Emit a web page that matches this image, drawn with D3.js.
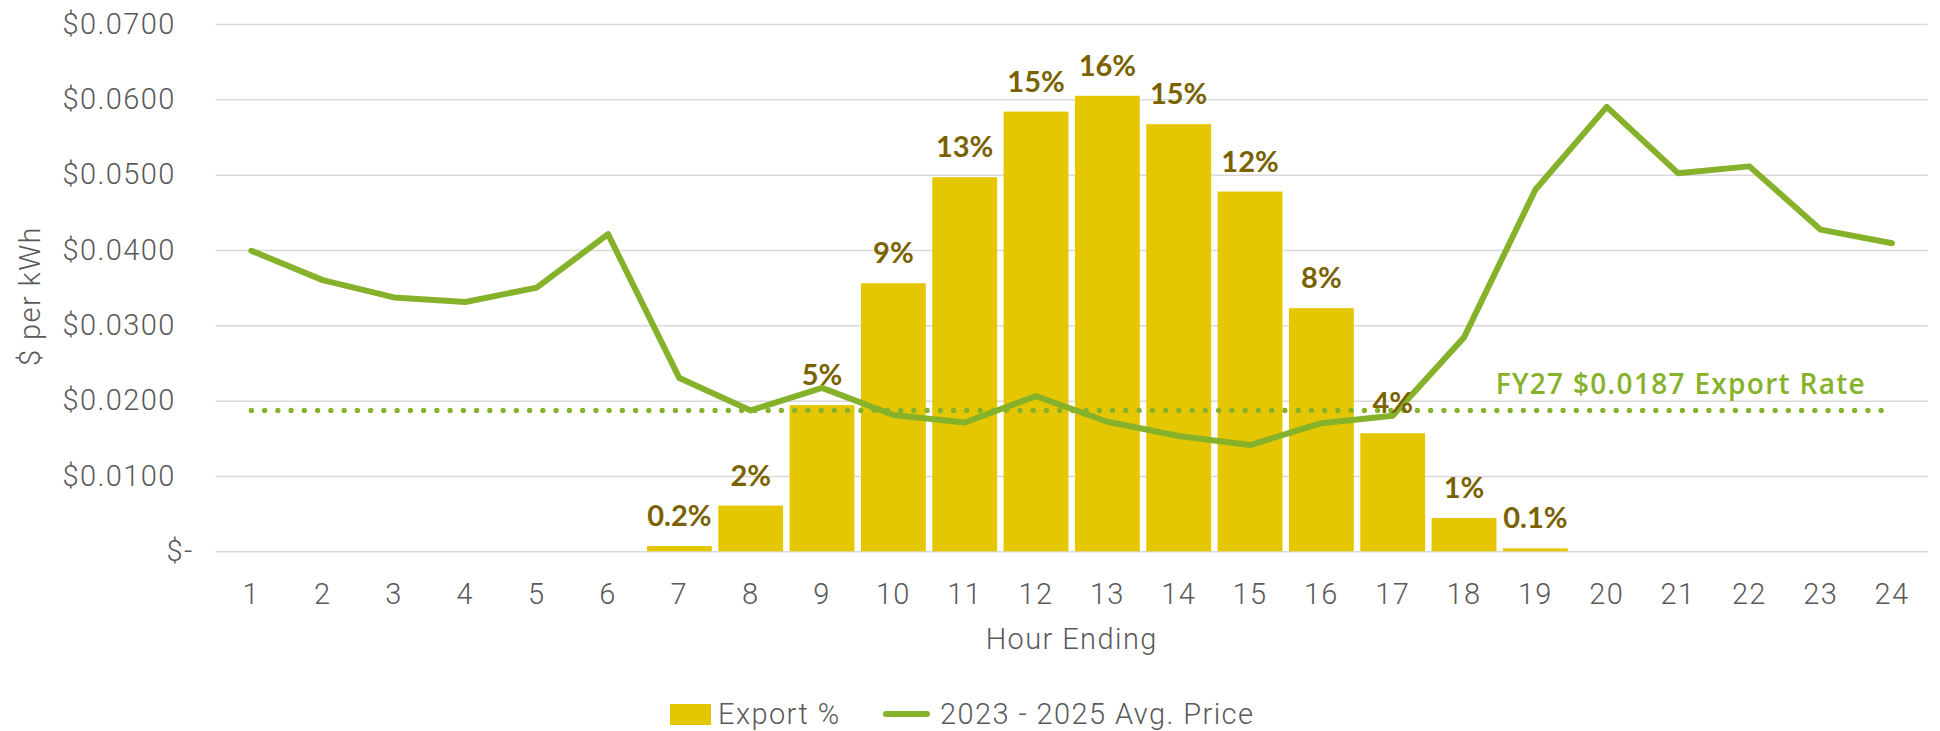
<!DOCTYPE html>
<html>
<head>
<meta charset="utf-8">
<script src="https://cdn.jsdelivr.net/npm/d3@7"></script>
<style>
  html, body { margin: 0; padding: 0; background: #ffffff; }
  svg { display: block; }
  .axis-text { font-family: Roboto, "Open Sans", sans-serif; font-weight: 300; font-size: 29px; fill: #595959; letter-spacing: 1.4px; }
  .bar-label { font-family: Lato, "Liberation Sans", sans-serif; font-weight: 700; font-size: 29px; fill: #7a6200; }
  .rate-label { font-family: "Open Sans", sans-serif; font-weight: 600; font-size: 28px; fill: #86b22b; letter-spacing: 1.3px; }
</style>
</head>
<body>
<svg></svg>
<script>
const hours = ["1","2","3","4","5","6","7","8","9","10","11","12","13","14","15","16","17","18","19","20","21","22","23","24"]

// share of daily export by hour (fraction)
const exportPct = [0, 0, 0, 0, 0, 0, 0.0018, 0.0156, 0.0499, 0.0915, 0.1277, 0.1501,
  0.1555, 0.1458, 0.1228, 0.0830, 0.0403, 0.0114, 0.0010, 0, 0, 0, 0, 0]

// 2023 - 2025 average price, $ per kWh
const avgPrice = [0.0399, 0.0360, 0.0337, 0.0331, 0.0350, 0.0421, 0.0230, 0.0187,
  0.0217, 0.0181, 0.0171, 0.0206, 0.0172, 0.0153, 0.0141, 0.0170, 0.0180, 0.0284,
  0.0480, 0.0590, 0.0502, 0.0511, 0.0427, 0.0409]

const exportRate = 0.0187
const yTicks = [0, 0.01, 0.02, 0.03, 0.04, 0.05, 0.06, 0.07]

const barColor = "#e4c700"
const lineColor = "#86b22b"

const svg = d3.select("svg")
  .attr("width", 1940)
  .attr("height", 731)

const plotLeft = 215.7, plotRight = 1927.7, plotTop = 24, plotBottom = 551.3

const scaleX = d3.scaleBand()
  .domain(hours)
  .range([plotLeft, plotRight])
  .paddingInner(1 - 1 / 1.1)
  .paddingOuter((1 - 1 / 1.1) / 2)

const scaleY = d3.scaleLinear()
  .domain([0, 0.07])
  .range([plotBottom, plotTop])

// hidden secondary axis for the export share
const scaleY2 = d3.scaleLinear()
  .domain([0, 0.18])
  .range([plotBottom, plotTop])

const cx = (h) => scaleX(h) + scaleX.bandwidth() / 2

// gridlines + y labels
const axisY = d3.axisLeft(scaleY)
  .tickValues(yTicks)
  .tickSizeInner(-(plotRight - plotLeft))
  .tickSizeOuter(0)
  .tickPadding(40)
  .tickFormat((d) => d === 0 ? "$-" : d3.format("$.4f")(d))

const axisYGroup = svg.append("g")
  .attr("transform", `translate(${plotLeft}, 0)`)
  .call(axisY)

axisYGroup.select(".domain").remove()
axisYGroup.selectAll(".tick line")
  .attr("stroke", "#d9d9d9")
  .attr("stroke-width", 1.5)
axisYGroup.selectAll(".tick text")
  .attr("class", "axis-text")
  .attr("dx", (d) => d === 0 ? 18 : 0)
axisYGroup.attr("font-family", null).attr("font-size", null)

// x labels
const axisX = d3.axisBottom(scaleX)
  .tickSize(0)
  .tickPadding(32)

const axisXGroup = svg.append("g")
  .attr("transform", `translate(0, ${plotBottom})`)
  .call(axisX)

axisXGroup.select(".domain").remove()
axisXGroup.selectAll(".tick text")
  .attr("class", "axis-text")
axisXGroup.attr("font-family", null).attr("font-size", null)

svg.selectAll(".tick text").attr("fill", null)

// axis titles
svg.append("text")
  .attr("class", "axis-text")
  .attr("x", (plotLeft + plotRight) / 2)
  .attr("y", 649)
  .attr("text-anchor", "middle")
  .text("Hour Ending")

svg.append("text")
  .attr("class", "axis-text")
  .attr("transform", "translate(40, 296) rotate(-90)")
  .attr("text-anchor", "middle")
  .text("$ per kWh")

// bars
const barData = hours.map((h, i) => ({ h: h, v: exportPct[i] })).filter((d) => d.v > 0)

svg.append("g")
  .selectAll("rect")
  .data(barData)
  .enter()
  .append("rect")
  .attr("x", (d) => scaleX(d.h))
  .attr("y", (d) => scaleY2(d.v))
  .attr("width", scaleX.bandwidth())
  .attr("height", (d) => plotBottom - scaleY2(d.v))
  .attr("fill", barColor)

// export rate dotted line
const rateLine = d3.line()
  .x((d) => cx(d))
  .y(() => scaleY(exportRate))

svg.append("path")
  .datum(hours)
  .attr("d", rateLine)
  .attr("fill", "none")
  .attr("stroke", lineColor)
  .attr("stroke-width", 5.3)
  .attr("stroke-linecap", "round")
  .attr("stroke-dasharray", "0.01 13.24")

// price line
const priceLine = d3.line()
  .x((d, i) => cx(hours[i]))
  .y((d) => scaleY(d))

svg.append("path")
  .datum(avgPrice)
  .attr("d", priceLine)
  .attr("fill", "none")
  .attr("stroke", lineColor)
  .attr("stroke-width", 6)
  .attr("stroke-linejoin", "round")
  .attr("stroke-linecap", "round")

// bar labels
const fmtPct = (v) => v < 0.005 ? d3.format(".1%")(v) : d3.format(".0%")(v)

svg.append("g")
  .selectAll("text")
  .data(barData)
  .enter()
  .append("text")
  .attr("class", "bar-label")
  .attr("x", (d) => cx(d.h))
  .attr("y", (d) => scaleY2(d.v) - 20)
  .attr("text-anchor", "middle")
  .text((d) => fmtPct(d.v))

// export rate label
svg.append("text")
  .attr("class", "rate-label")
  .attr("x", cx("24") - 26)
  .attr("y", scaleY(exportRate) - 16.4)
  .attr("text-anchor", "end")
  .text(`FY27 ${d3.format("$.4f")(exportRate)} Export Rate`)

// legend
const legend = svg.append("g")

legend.append("rect")
  .attr("x", 670)
  .attr("y", 704)
  .attr("width", 41)
  .attr("height", 21)
  .attr("fill", barColor)

legend.append("text")
  .attr("class", "axis-text")
  .attr("x", 718)
  .attr("y", 724)
  .text("Export %")

legend.append("line")
  .attr("x1", 886)
  .attr("x2", 927)
  .attr("y1", 714)
  .attr("y2", 714)
  .attr("stroke", lineColor)
  .attr("stroke-width", 6)
  .attr("stroke-linecap", "round")

legend.append("text")
  .attr("class", "axis-text")
  .attr("x", 940)
  .attr("y", 724)
  .text("2023 - 2025 Avg. Price")
</script>
</body>
</html>
